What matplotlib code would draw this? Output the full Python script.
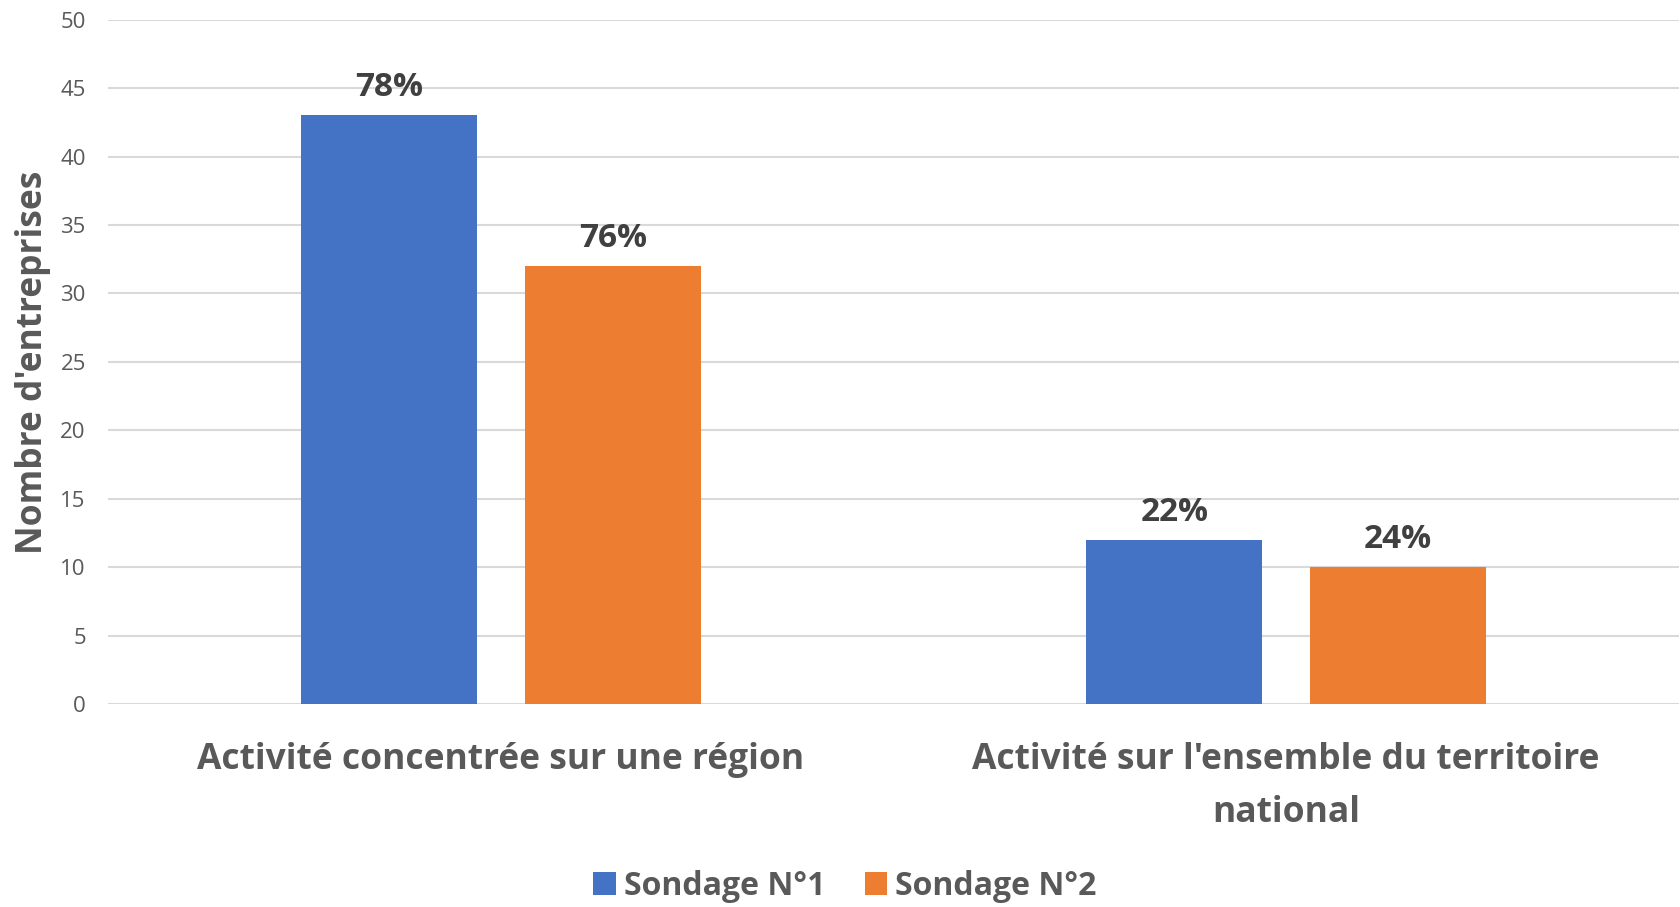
import numpy as np
import matplotlib.pyplot as plt

categories = ["Activité concentrée sur une région",
              "Activité sur l'ensemble du territoire\nnational"]
series_names = ["Sondage N°1", "Sondage N°2"]
sondage1 = [43, 12]
sondage2 = [32, 10]
labels1 = ["78%", "22%"]
labels2 = ["76%", "24%"]

plt.rcParams['font.family'] = ['Open Sans', 'DejaVu Sans']

blue = '#4472C4'
orange = '#ED7D31'
grey = '#595959'

fig = plt.figure(figsize=(16.8, 9.07), dpi=100)
ax = fig.add_axes([0.0643, 0.2238, 0.935, 0.7545])

x = np.arange(len(categories))
w = 0.224
off = 0.1425
b1 = ax.bar(x - off, sondage1, w, color=blue, label=series_names[0], zorder=3)
b2 = ax.bar(x + off, sondage2, w, color=orange, label=series_names[1], zorder=3)

for bars, labs in [(b1, labels1), (b2, labels2)]:
    for rect, lab in zip(bars, labs):
        ax.annotate(lab, (rect.get_x() + rect.get_width() / 2, rect.get_height()),
                    xytext=(0, 8), textcoords='offset points', ha='center', va='bottom',
                    fontsize=24, fontweight='bold', color='#404040')

ax.set_xlim(-0.5, 1.5)
ax.set_ylim(0, 50)
ax.set_yticks(range(0, 51, 5))
ax.yaxis.grid(True, color='#D9D9D9', linewidth=1.5, zorder=0)
ax.set_axisbelow(True)
for s in ax.spines.values():
    s.set_visible(False)
ax.tick_params(axis='y', length=0, pad=16, labelsize=16, labelcolor=grey)
ax.tick_params(axis='x', length=0, pad=27, labelsize=25.5, labelcolor=grey)
ax.set_xticks(x)
ax.set_xticklabels(categories, fontweight='bold', linespacing=1.66)

ax.set_ylabel("Nombre d'entreprises", fontsize=25.5, fontweight='bold', color=grey)
ax.yaxis.set_label_coords(-0.036, 0.5)

fig.legend(loc='center', bbox_to_anchor=(0.503, 0.023), ncol=2, frameon=False,
           prop={'size': 23, 'weight': 'bold'}, labelcolor=grey,
           handlelength=0.7, handleheight=0.7, handletextpad=0.25, columnspacing=1.25)

fig.savefig('out.png', dpi=100)
